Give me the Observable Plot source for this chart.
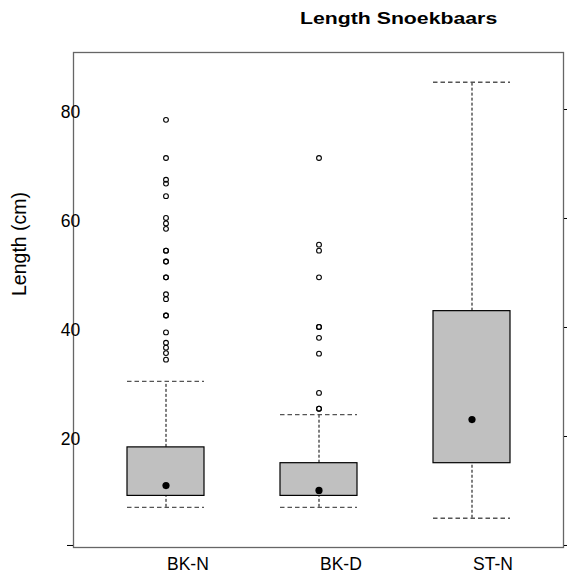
<!DOCTYPE html>
<html><head><meta charset="utf-8">
<script src="https://cdn.jsdelivr.net/npm/d3@7"></script>
<script src="https://cdn.jsdelivr.net/npm/@observablehq/plot@0.6"></script>
<style>
body{margin:0;background:#fff;}
#wrap{position:relative;width:567px;height:577px;font-family:"Liberation Sans",Arial,sans-serif;overflow:hidden;}
#title{position:absolute;left:300px;top:9.6px;font-weight:bold;font-size:17px;line-height:17px;transform:scaleX(1.25);transform-origin:left top;white-space:nowrap;color:#000;}
#ylab{position:absolute;left:0;top:0;font-size:19.5px;line-height:19.5px;white-space:nowrap;transform-origin:0 0;color:#000;}
#chart{position:absolute;left:0;top:0;}
</style>
</head><body>
<div id="wrap">
  <div id="chart"></div>
  <div id="title">Length Snoekbaars</div>
  <div id="ylab">Length (cm)</div>
</div>
<script>
// Data
const categories = ["BK-N", "BK-D", "ST-N"];
const q1 = [9.1, 9.1, 15.1];
const q3 = [18.0, 15.1, 43.0];
const means = [11.0, 10.1, 23.1];
const whiskerLow = [7.0, 7.0, 5.0];
const whiskerHigh = [30.1, 24.0, 85.0];
const outliersBKN = [78.1, 71.1, 67.1, 66.4, 64.1, 60.1, 59.1, 58.1, 54.1, 54.1, 52.1, 52.1, 49.2, 49.2, 46.1, 45.2, 42.2, 42.2, 39.1, 37.2, 36.3, 35.3, 34.1];
const outliersBKD = [71.1, 55.2, 54.1, 49.2, 40.1, 40.1, 38.1, 35.2, 28.0, 25.1, 25.1];
const outliersSTN = [];
const yTicks = [0, 20, 40, 60, 80];

const boxes = categories.map((c, i) => ({cat: c, q1: q1[i], q3: q3[i], mean: means[i], lo: whiskerLow[i], hi: whiskerHigh[i]}));
const outl = [
  ...outliersBKN.map(v => ({cat: "BK-N", v})),
  ...outliersBKD.map(v => ({cat: "BK-D", v})),
  ...outliersSTN.map(v => ({cat: "ST-N", v}))
];

const plot = Plot.plot({
  width: 567, height: 577,
  marginLeft: 73, marginRight: 4, marginTop: 52, marginBottom: 30,
  style: {fontFamily: "Liberation Sans, Arial, sans-serif", background: "white", color: "black"},
  x: {type: "band", domain: categories, paddingInner: 0.5, paddingOuter: 0.346, label: null},
  y: {domain: [-0.37, 90.46], label: null},
  marks: [
    Plot.frame({stroke: "#666", strokeWidth: 1.3}),
    Plot.axisY({anchor: "right", ticks: yTicks, tickSize: 5, tickFormat: () => "", stroke: "black", label: null}),
    Plot.axisY({anchor: "left", ticks: [0], tickSize: 6, tickFormat: () => "", stroke: "black", label: null}),
    Plot.text(yTicks.filter(d => d > 0), {y: d => d, text: d => String(d), frameAnchor: "left", textAnchor: "middle", dx: -3, dy: 3, fontSize: 17.5, fill: "black"}),
    Plot.axisX({anchor: "bottom", tickSize: 0, tickPadding: 10, textAnchor: "start", dx: 1, fontSize: 17.5, fill: "black", label: null}),
    Plot.ruleX(boxes, {x: "cat", y1: "q3", y2: "hi", stroke: "black", strokeWidth: 1, strokeDasharray: "3,2"}),
    Plot.ruleX(boxes, {x: "cat", y1: "lo", y2: "q1", stroke: "black", strokeWidth: 1, strokeDasharray: "3,2"}),
    Plot.tickY(boxes, {x: "cat", y: "hi", stroke: "#555", strokeWidth: 1.3, strokeDasharray: "4.5,3"}),
    Plot.tickY(boxes, {x: "cat", y: "lo", stroke: "#555", strokeWidth: 1.3, strokeDasharray: "4.5,3"}),
    Plot.barY(boxes, {x: "cat", y1: "q1", y2: "q3", fill: "#c0c0c0", stroke: "black", strokeWidth: 1.2}),
    Plot.dot(boxes, {x: "cat", y: "mean", r: 3.6, fill: "black", stroke: "none"}),
    Plot.dot(outl, {x: "cat", y: "v", r: 2.4, stroke: "black", strokeWidth: 1.1, fill: "none"})
  ]
});
document.getElementById("chart").appendChild(plot);

// Position rotated y label: baseline at x≈26.7, centered at y≈244
const yl = document.getElementById("ylab");
const w = yl.offsetWidth;
const fs = 19.5;
const baselineOffset = (fs - 1.117 * fs) / 2 + 0.905 * fs;
yl.style.transform = `translate(${26.7 - baselineOffset}px, ${244 + w / 2}px) rotate(-90deg)`;
</script>
</body></html>
